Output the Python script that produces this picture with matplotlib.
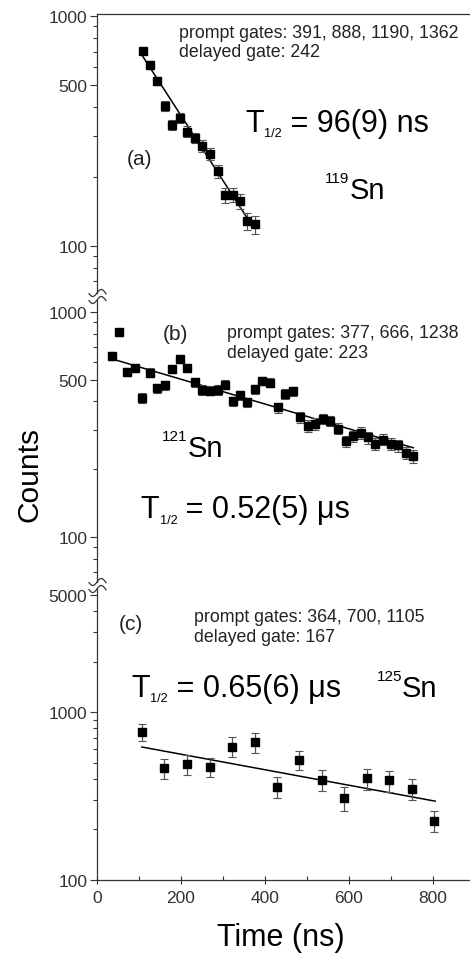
import matplotlib

matplotlib.use("Agg")

import matplotlib.pyplot as plt
import numpy as np
from matplotlib.lines import Line2D
from matplotlib.ticker import FixedFormatter, FixedLocator, LogLocator, NullFormatter

plt.rcParams["font.family"] = ["Liberation Sans", "DejaVu Sans"]

# panel (a) 119Sn
a_t = [109, 126, 144, 161, 179, 198, 215, 233, 251, 269, 287, 305, 323, 340, 358, 376]
a_counts = [705, 612, 520, 406, 337, 361, 314, 295, 272, 252, 211, 166, 167, 156, 128, 124]
a_err = [24, 23, 21, 19, 17, 18, 17, 16, 16, 15, 14, 12, 12, 12, 11, 11]
a_fit_t = [109, 360]
a_fit_counts = [667, 130]

# panel (b) 121Sn
b_t = [35, 53, 71, 90, 108, 125, 144, 161, 179, 198, 215, 233, 251, 269, 287,
       305, 323, 340, 358, 376, 394, 412, 430, 448, 466, 484, 502, 520, 538, 555,
       574, 592, 610, 628, 645, 663, 682, 699, 717, 736, 753]
b_counts = [637, 811, 540, 565, 414, 537, 458, 471, 556, 615, 562, 487, 450, 446, 450,
            474, 400, 425, 396, 454, 493, 485, 376, 431, 443, 340, 312, 318, 334, 328,
            303, 266, 280, 290, 277, 259, 271, 259, 255, 236, 228]
b_err = [25, 28, 23, 24, 20, 23, 21, 22, 24, 25, 24, 22, 21, 21, 21,
         22, 20, 21, 20, 21, 22, 22, 19, 21, 21, 18, 18, 18, 18, 18,
         17, 16, 17, 17, 17, 16, 16, 16, 16, 15, 15]
b_fit_t = [35, 753]
b_fit_counts = [618, 249]

# panel (c) 125Sn
c_t = [107, 160, 214, 268, 321, 375, 428, 482, 536, 589, 642, 696, 749, 803]
c_counts = [766, 464, 490, 471, 624, 662, 359, 518, 396, 306, 403, 392, 348, 224]
c_err = [90, 65, 68, 62, 85, 88, 52, 68, 56, 50, 58, 56, 50, 32]
c_fit_t = [107, 805]
c_fit_counts = [620, 295]

panels = [
    dict(t=a_t, y=a_counts, e=a_err, ft=a_fit_t, fy=a_fit_counts,
         ylim=(62.3, 1020), yticks=[100, 500, 1000]),
    dict(t=b_t, y=b_counts, e=b_err, ft=b_fit_t, fy=b_fit_counts,
         ylim=(63.2, 1127), yticks=[100, 500, 1000]),
    dict(t=c_t, y=c_counts, e=c_err, ft=c_fit_t, fy=c_fit_counts,
         ylim=(100, 5420), yticks=[100, 1000, 5000]),
]

W, H = 470, 954
fig = plt.figure(figsize=(W / 100, H / 100), dpi=100)

# axes boxes in pixels: (top, bottom)
boxes = [(15, 294), (301, 583), (590, 881)]
x_left, x_right = 97, 470
axes = []
for (top, bot), p in zip(boxes, panels):
    ax = fig.add_axes([x_left / W, 1 - bot / H, (x_right - x_left) / W, (bot - top) / H])
    ax.set_yscale("log")
    ax.set_xlim(0, 888)
    ax.set_ylim(*p["ylim"])
    ax.errorbar(p["t"], p["y"], yerr=p["e"], fmt="s", color="black", ms=5.5,
                ecolor="#555555", elinewidth=0.9, capsize=2.8, capthick=0.8, zorder=3)
    ax.plot(p["ft"], p["fy"], color="black", lw=1.1, zorder=2)
    ax.yaxis.set_major_locator(FixedLocator(p["yticks"]))
    ax.yaxis.set_major_formatter(FixedFormatter([str(v) for v in p["yticks"]]))
    ax.yaxis.set_minor_locator(LogLocator(base=10, subs=np.arange(1, 10)))
    ax.yaxis.set_minor_formatter(NullFormatter())
    ax.tick_params(axis="y", which="major", direction="out", length=5, width=0.8,
                   labelsize=12.5, colors="#333333", pad=2)
    ax.tick_params(axis="y", which="minor", direction="out", length=3, width=0.8,
                   colors="#333333")
    ax.spines["right"].set_visible(False)
    for s in ["left", "top", "bottom"]:
        ax.spines[s].set_color("#333333")
        ax.spines[s].set_linewidth(0.9)
    axes.append(ax)

ax_a, ax_b, ax_c = axes
for ax in (ax_a, ax_b):
    ax.spines["bottom"].set_visible(False)
    ax.tick_params(axis="x", which="both", bottom=False, labelbottom=False)
ax_b.spines["top"].set_visible(False)
ax_c.spines["top"].set_visible(False)

ax_c.set_xticks([0, 200, 400, 600, 800])
ax_c.set_xticks([100, 300, 500, 700], minor=True)
ax_c.tick_params(axis="x", which="major", direction="inout", length=6, width=0.8,
                 labelsize=12.5, colors="#333333", pad=4)
ax_c.tick_params(axis="x", which="minor", direction="in", length=3, width=0.8,
                 colors="#333333")

small = 12.8
big = 22


def half_life(ax, x, y, rest):
    t1 = ax.text(x, y, "T", transform=ax.transAxes, fontsize=big, va="baseline")
    t2 = ax.annotate("1/2", xy=(1, y), xycoords=(t1, "axes fraction"),
                     xytext=(0.3, -3.8), textcoords="offset points",
                     fontsize=9.2, va="baseline")
    ax.annotate(" = " + rest, xy=(1, y), xycoords=(t2, "axes fraction"),
                xytext=(0, 0), textcoords="offset points", fontsize=big,
                va="baseline")


def isotope(ax, x, y, mass, sym):
    t1 = ax.annotate(mass, xy=(x, y), xycoords="axes fraction", xytext=(0, 11.5),
                     textcoords="offset points", fontsize=11, va="baseline")
    ax.annotate(sym, xy=(1, y), xycoords=(t1, "axes fraction"), xytext=(0.2, 0),
                textcoords="offset points", fontsize=21, va="baseline")


def gates(ax, x, y, txt):
    ax.text(x, y, txt, transform=ax.transAxes, fontsize=small, va="center",
            ha="left", color="#222222")


def tag(ax, x, y, txt):
    ax.text(x, y, txt, transform=ax.transAxes, fontsize=15, va="baseline",
            ha="left", color="#222222")


gates(ax_a, 0.220, 0.900, "prompt gates: 391, 888, 1190, 1362\ndelayed gate: 242")
half_life(ax_a, 0.397, 0.582, "96(9) ns")
tag(ax_a, 0.080, 0.462, "(a)")
isotope(ax_a, 0.612, 0.342, "119", "Sn")

tag(ax_b, 0.177, 0.862, "(b)")
gates(ax_b, 0.3485, 0.849, "prompt gates: 377, 666, 1238\ndelayed gate: 223")
isotope(ax_b, 0.175, 0.447, "121", "Sn")
half_life(ax_b, 0.117, 0.229, "0.52(5) μs")

tag(ax_c, 0.059, 0.8625, "(c)")
gates(ax_c, 0.260, 0.871, "prompt gates: 364, 700, 1105\ndelayed gate: 167")
half_life(ax_c, 0.091, 0.632, "0.65(6) μs")
isotope(ax_c, 0.749, 0.632, "125", "Sn")

fig.text(30 / W, 1 - 475 / H, "Counts", rotation=90, fontsize=21.5,
         va="center", ha="center")
fig.text(281 / W, 1 - 938 / H, "Time (ns)", fontsize=22, va="center", ha="center")

# axis break marks
wx = np.linspace(-8, 9, 40)
wy = -3.5 * np.sin(np.pi * wx / 8.5)
for cy in (294, 301, 583, 590):
    fig.add_artist(Line2D((x_left + wx) / W, 1 - (cy + wy) / H,
                          transform=fig.transFigure, color="#333333", lw=0.9))

fig.savefig("out.png", dpi=100)
